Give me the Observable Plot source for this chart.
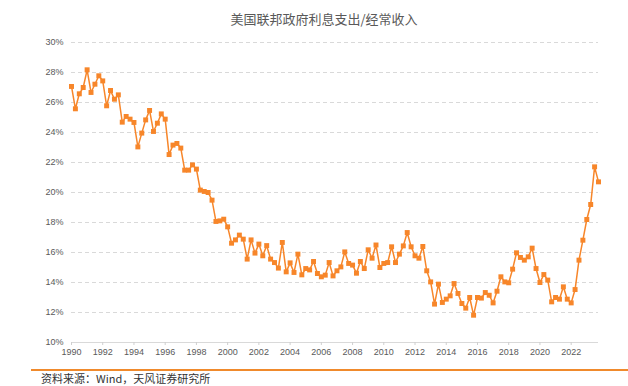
<!DOCTYPE html>
<html>
<head>
<meta charset="utf-8">
<script src="https://cdn.jsdelivr.net/npm/d3@7"></script>
<script src="https://cdn.jsdelivr.net/npm/@observablehq/plot@0.6"></script>
<style>
  html, body { margin: 0; padding: 0; background: #fff; overflow: hidden; }
  body { width: 628px; height: 386px; position: relative; font-family: "Liberation Sans", Arial, "Noto Sans CJK SC", sans-serif; }
  #title { height: 30px; line-height: 38px; text-align: center; font-size: 13px; color: #595959; font-family: "Noto Sans CJK SC", sans-serif; padding-left: 20px; box-sizing: border-box; }
  #chart { height: 336px; }
  #rule { margin-left: 31px; margin-top: 3px; border-top: 2px solid #f08a2c; }
  #source { margin-left: 41px; margin-top: 2px; font-size: 11px; line-height: 11px; height: 12px; color: #333; font-family: "Noto Sans CJK SC", sans-serif; }
</style>
</head>
<body>
<div id="title">美国联邦政府利息支出/经常收入</div>
<div id="chart"></div>
<div id="rule"></div>
<div id="source">资料来源：Wind，天风证券研究所</div>
<script>
const startYear = 1990;
// quarterly values (%), 1990Q1 .. 2023Q4
const ratio = [
  27.07, 25.58, 26.58, 27.00, 28.18, 26.67, 27.22, 27.78,
  27.44, 25.78, 26.80, 26.22, 26.51, 24.69, 25.07, 24.89,
  24.67, 23.04, 23.96, 24.84, 25.47, 24.07, 24.62, 25.24,
  24.89, 22.53, 23.16, 23.27, 22.96, 21.49, 21.49, 21.84,
  21.56, 20.16, 20.07, 20.00, 19.49, 18.07, 18.11, 18.22,
  17.71, 16.62, 16.84, 17.16, 16.89, 15.56, 16.84, 15.96,
  16.56, 15.78, 16.46, 15.56, 15.33, 14.96, 16.67, 14.71,
  15.31, 14.67, 15.89, 14.51, 14.93, 14.84, 15.40, 14.60,
  14.38, 14.49, 15.33, 14.44, 14.78, 15.04, 16.04, 15.27,
  15.16, 14.62, 15.40, 14.93, 16.18, 15.62, 16.50, 15.00,
  15.27, 15.33, 16.38, 15.33, 15.89, 16.44, 17.33, 16.38,
  15.78, 15.62, 16.40, 14.78, 14.04, 12.56, 13.89, 12.67,
  12.89, 13.11, 13.93, 13.27, 12.60, 12.29, 13.00, 11.82,
  13.00, 12.96, 13.33, 13.15, 12.64, 13.42, 14.38, 14.04,
  13.98, 14.89, 15.98, 15.67, 15.49, 15.71, 16.29, 14.93,
  14.00, 14.53, 14.16, 12.71, 13.00, 12.89, 13.71, 12.89,
  12.64, 13.53, 15.49, 16.82, 18.20, 19.20, 21.71, 20.71
];
const yTicks = [10, 12, 14, 16, 18, 20, 22, 24, 26, 28, 30];
const xTicks = [1990, 1992, 1994, 1996, 1998, 2000, 2002, 2004, 2006, 2008, 2010, 2012, 2014, 2016, 2018, 2020, 2022];

const data = ratio.map((v, i) => ({ t: startYear + Math.floor(i / 4) + (i % 4) / 4, v }));
const orange = "#f7862a";

const chart = Plot.plot({
  width: 628,
  height: 336,
  marginTop: 12,
  marginBottom: 24,
  marginLeft: 71,
  marginRight: 30,
  style: { fontFamily: "'Liberation Sans', Arial, sans-serif", background: "#fff" },
  x: { domain: [1990, 2023.75] },
  y: { domain: [10, 30] },
  marks: [
    Plot.ruleY(yTicks.filter(d => d > 10), { stroke: "#d9d9d9", strokeDasharray: "4,3", strokeWidth: 1 }),
    Plot.ruleY([10], { stroke: "#d9d9d9", strokeWidth: 1 }),
    Plot.axisY({ ticks: yTicks, tickFormat: d => d + "%", tickSize: 0, tickPadding: 8, fontSize: 9, fill: "#595959", label: null }),
    Plot.axisX({ ticks: xTicks, tickFormat: d => String(d), tickSize: 3, tickPadding: 3, fontSize: 9, fill: "#595959", stroke: "#cfcfcf", label: null }),
    Plot.line(data, { x: "t", y: "v", stroke: orange, strokeWidth: 1.5 }),
    Plot.dot(data, { x: "t", y: "v", symbol: "square", r: 2.8, fill: orange, stroke: "none" })
  ]
});
document.getElementById("chart").appendChild(chart);
</script>
</body>
</html>
